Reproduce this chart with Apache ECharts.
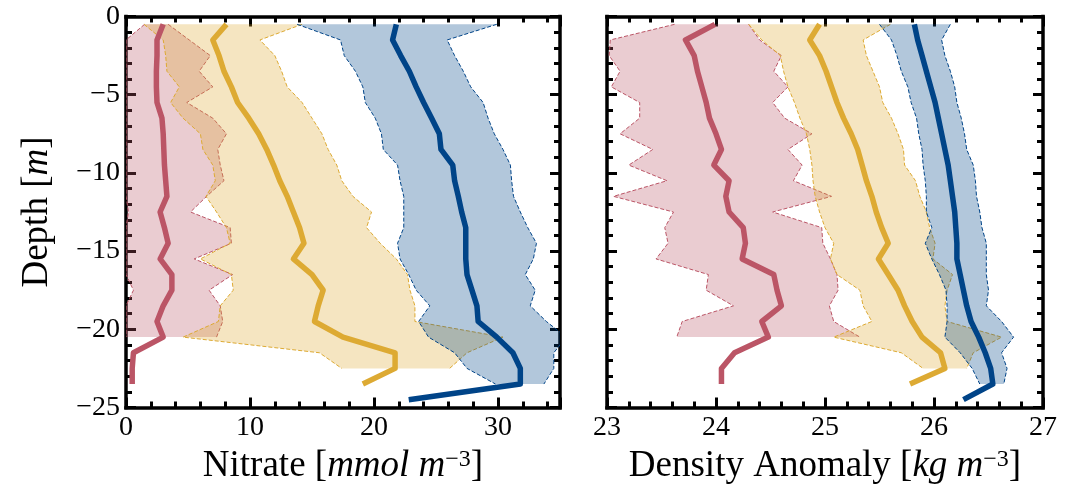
<!DOCTYPE html>
<html><head><meta charset="utf-8">
<script src="https://cdn.jsdelivr.net/npm/echarts@6/dist/echarts.min.js"></script>
<style>html,body{margin:0;padding:0;background:#fff}#c{width:1081px;height:490px}</style>
</head><body><div id="c"></div><script>
// depth levels [m]
const depths = [-0.5,-1.5,-2.5,-3.5,-4.5,-5.5,-6.5,-7.5,-8.5,-9.5,-10.5,-11.5,-12.5,-13.5,-14.5,-15.5,-16.5,-17.5,-18.5,-19.5,-20.5,-21.5,-22.5,-23.5,-24.5];

// tick labels
const depthTicks = [0,-5,-10,-15,-20,-25];
const nitrateTicks = [0,10,20,30];
const densityTicks = [23,24,25,26,27];

// Nitrate [mmol m^-3]
const nitRedMean = [3.0,2.5,2.5,2.45,2.45,2.5,2.9,3.0,3.05,3.1,3.2,3.3,2.75,3.1,3.4,2.75,3.7,3.7,3.0,2.5,3.0,0.6,0.5,0.5];
const nitRedLow  = [1.5,0,0,0,0,0,0,0,0,0,0,0,0.2,0,0,0,0,0.6,0,0,0];
const nitRedHigh = [3.4,5.1,6.8,5.9,7.0,4.9,7.0,8.1,7.4,7.6,7.9,6.5,5.2,8.4,8.5,5.5,8.6,6.7,7.6,7.8,7.3];
const nitYelMean = [8.1,7.0,7.5,7.9,8.5,9.0,9.9,10.7,11.35,11.9,12.4,13.0,13.5,14.0,14.35,13.5,15.0,15.9,15.5,15.2,17.5,21.7,21.7,19.1];
const nitYelLow  = [1.45,3.0,3.2,3.3,4.3,3.6,4.6,6.0,6.2,7.0,7.2,6.45,7.3,8.1,8.4,6.0,8.5,8.65,7.6,7.45,4.6,15.6,17.4];
const nitYelHigh = [14.2,10.8,12.0,12.55,13.0,14.2,15.0,15.8,16.3,17.0,17.4,18.3,19.8,19.4,20.5,21.8,22.7,22.9,23.3,23.3,30.4,27.5,26.1];
const nitBluMean = [21.8,21.5,22.15,22.85,23.4,24.0,24.65,25.27,25.4,26.35,26.5,26.8,27.07,27.4,27.4,27.4,27.5,27.9,28.3,28.4,29.9,31.2,31.8,31.8,22.8];
const nitBluLow  = [13.8,17.3,17.6,18.5,19.1,19.3,20.1,20.6,20.75,21.9,22.1,22.4,22.4,22.4,21.9,22.1,22.8,23.4,24.5,23.6,24.4,26.5,27.5,29.8];
const nitBluHigh = [29.9,25.9,26.5,27.2,27.8,28.8,29.2,29.7,30.4,31.0,31.1,31.25,31.8,32.4,33.1,32.85,32.2,33.0,32.6,33.9,35.5,34.5,34.5,33.7];

// Density anomaly [kg m^-3]
const denRedMean = [23.99,23.72,23.8,23.83,23.87,23.91,23.94,24.0,24.05,23.98,24.12,24.09,24.12,24.25,24.27,24.24,24.53,24.56,24.6,24.42,24.48,24.17,24.05,24.05];
const denRedLow  = [23.62,23.03,23.02,23.12,23.04,23.3,23.3,23.12,23.42,23.2,23.55,23.06,23.61,23.53,23.56,23.45,23.93,23.91,24.16,23.69,23.64];
const denRedHigh = [24.3,24.4,24.6,24.53,24.66,24.52,24.63,24.88,24.66,24.79,24.71,25.06,24.52,24.97,24.98,25.05,25.11,25.12,25.04,25.08,25.32];
const denYelMean = [24.95,24.86,24.95,25.01,25.06,25.11,25.17,25.24,25.3,25.34,25.38,25.43,25.47,25.52,25.58,25.49,25.58,25.67,25.73,25.8,25.89,26.06,26.1,25.78];
const denYelLow  = [24.3,24.42,24.59,24.62,24.66,24.72,24.77,24.83,24.86,24.88,24.89,24.91,24.95,25.0,25.08,25.05,25.11,25.32,25.35,25.43,25.08,25.7,25.9];
const denYelHigh = [25.6,25.35,25.38,25.44,25.5,25.53,25.61,25.67,25.72,25.73,25.83,25.87,25.93,25.96,26.01,25.99,26.17,26.12,26.1,26.12,26.62,26.36,26.3];
const denBluMean = [25.82,25.85,25.89,25.93,25.97,26.01,26.04,26.07,26.1,26.13,26.15,26.17,26.19,26.2,26.21,26.21,26.24,26.27,26.3,26.34,26.41,26.47,26.52,26.54,26.27];
const denBluLow  = [25.5,25.61,25.66,25.7,25.76,25.79,25.84,25.86,25.89,25.9,25.92,25.93,25.93,25.98,25.92,25.98,26.05,26.11,26.12,26.12,26.1,26.24,26.35,26.42];
const denBluHigh = [26.15,26.07,26.1,26.15,26.19,26.21,26.25,26.28,26.3,26.36,26.38,26.39,26.42,26.44,26.48,26.48,26.48,26.5,26.48,26.62,26.73,26.62,26.67,26.64];

const RED = '#BB5566', YEL = '#DDAA33', BLU = '#004488';
const RED_F = 'rgba(187,85,102,0.3)', YEL_F = 'rgba(221,170,51,0.3)', BLU_F = 'rgba(0,68,136,0.3)';
const FONT = 'Liberation Serif';

const fmt = v => (v < 0 ? '\u2212' + (-v) : String(v));

function band(ax, low, high, color, fill) {
  return {
    type: 'custom', xAxisIndex: ax, yAxisIndex: ax, clip: true, z: 2, silent: true,
    data: low.map((l, i) => [l, depths[i], high[i]]),
    renderItem: (params, api) => {
      if (params.dataIndex !== 0) return null;
      const lo = low.map((l, i) => api.coord([l, depths[i]]));
      const hi = high.map((h, i) => api.coord([h, depths[i]]));
      return { type: 'group', children: [
        { type: 'polygon', shape: { points: lo.concat(hi.slice().reverse()) }, style: { fill: fill, stroke: null } },
        { type: 'polyline', shape: { points: lo }, style: { fill: null, stroke: color, lineWidth: 1, lineDash: [4, 2] } },
        { type: 'polyline', shape: { points: hi }, style: { fill: null, stroke: color, lineWidth: 1, lineDash: [4, 2] } }
      ]};
    }
  };
}
function mean(ax, vals, color) {
  return {
    type: 'line', xAxisIndex: ax, yAxisIndex: ax, z: 5, silent: true,
    data: vals.map((v, i) => [v, depths[i]]),
    showSymbol: false, symbol: 'none', clip: true,
    lineStyle: { color: color, width: 5.5, join: 'round' }
  };
}

const tickCommon = {
  axisLine: { show: true, onZero: false, lineStyle: { color: '#000', width: 3.5, cap: 'square' } },
  axisTick: { show: true, inside: true, length: 10, lineStyle: { color: '#000', width: 3 } },
  minorTick: { show: true, splitNumber: 5, length: 6, lineStyle: { color: '#000', width: 3 } },
  splitLine: { show: false }
};
const labelStyle = { fontFamily: FONT, fontSize: 28, color: '#000' };
const nameStyle = {
  fontFamily: FONT, fontSize: 37, color: '#000',
  rich: {
    n: { fontFamily: FONT, fontSize: 37, color: '#000' },
    i: { fontFamily: FONT, fontSize: 37, color: '#000', fontStyle: 'italic' },
    s: { fontFamily: FONT, fontSize: 24, color: '#000', fontStyle: 'normal', verticalAlign: 'top' }
  }
};

function xAx(grid, min, max, interval, ticks, pos, name) {
  const a = Object.assign({ gridIndex: grid, type: 'value', position: pos, min, max, interval }, JSON.parse(JSON.stringify(tickCommon)));
  if (pos === 'bottom') {
    a.axisLabel = Object.assign({ show: true, margin: 6, formatter: fmt, customValues: ticks }, labelStyle);
    a.name = name; a.nameLocation = 'middle'; a.nameGap = 40; a.nameTextStyle = nameStyle;
  } else {
    a.axisLabel = { show: false };
  }
  return a;
}
function yAx(grid, pos, showLabels) {
  const a = Object.assign({ gridIndex: grid, type: 'value', position: pos, min: -25, max: 0, interval: 5 }, JSON.parse(JSON.stringify(tickCommon)));
  if (showLabels) {
    a.axisLabel = Object.assign({ show: true, margin: 6, formatter: fmt, customValues: depthTicks }, labelStyle);
    a.name = '{n|Depth [}{i|m}{n|]}'; a.nameLocation = 'middle'; a.nameGap = 70; a.nameRotate = 90; a.nameTextStyle = nameStyle;
  } else {
    a.axisLabel = { show: false };
  }
  return a;
}

const option = {
  animation: false,
  backgroundColor: '#fff',
  grid: [
    { left: 126, top: 16.5, width: 434, height: 391 },
    { left: 607, top: 16.5, width: 436, height: 391 }
  ],
  xAxis: [
    xAx(0, 0, 35, 10, nitrateTicks, 'bottom', '{n|Nitrate [}{i|mmol m}{s|\u22123}{n|]}'),
    xAx(0, 0, 35, 10, nitrateTicks, 'top'),
    xAx(1, 23, 27, 1, densityTicks, 'bottom', '{n|Density Anomaly [}{i|kg m}{s|\u22123}{n|]}'),
    xAx(1, 23, 27, 1, densityTicks, 'top')
  ],
  yAxis: [
    yAx(0, 'left', true),
    yAx(0, 'right', false),
    yAx(1, 'left', false),
    yAx(1, 'right', false)
  ],
  series: [
    band(0, nitRedLow, nitRedHigh, RED, RED_F),
    band(0, nitYelLow, nitYelHigh, YEL, YEL_F),
    band(0, nitBluLow, nitBluHigh, BLU, BLU_F),
    mean(0, nitRedMean, RED),
    mean(0, nitYelMean, YEL),
    mean(0, nitBluMean, BLU),
    band(2, denRedLow, denRedHigh, RED, RED_F),
    band(2, denYelLow, denYelHigh, YEL, YEL_F),
    band(2, denBluLow, denBluHigh, BLU, BLU_F),
    mean(2, denRedMean, RED),
    mean(2, denYelMean, YEL),
    mean(2, denBluMean, BLU)
  ]
};
const chart = echarts.init(document.getElementById('c'), null, { renderer: 'canvas' });
chart.setOption(option);
</script></body></html>
